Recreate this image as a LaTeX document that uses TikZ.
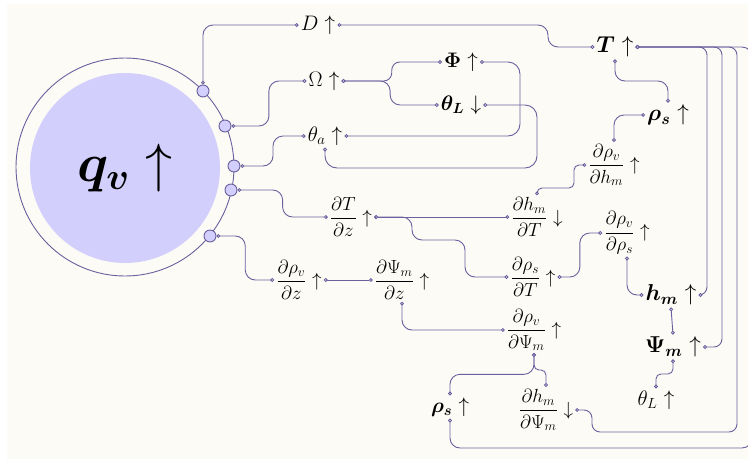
\RequirePackage{fix-cm}
\documentclass[tikz,border=0pt]{standalone}
\usepackage{amsmath}
\usepackage{bm}
\usetikzlibrary{arrows.meta}
\usetikzlibrary{calc}

\definecolor{cream}{RGB}{253,251,246}
\definecolor{lavender}{RGB}{211,207,252}
\definecolor{wirec}{RGB}{106,96,158}

\begin{document}
\begin{tikzpicture}[
  x=1pt, y=-1pt,
  var/.style={inner sep=2pt, font=\fontsize{21}{24}\selectfont},
  bigvar/.style={inner sep=2pt, font=\fontsize{23}{26}\selectfont},
  rate/.style={inner sep=2pt, font=\fontsize{19}{22}\selectfont},
  hub/.style={circle, fill=lavender, minimum size=190pt, inner sep=0pt,
    font=\fontsize{54}{60}\selectfont},
  port/.style={circle, draw=wirec, line width=0.9pt, fill=lavender,
    minimum size=12pt, inner sep=0pt},
  wire/.style={draw=wirec, line width=0.9pt, rounded corners=10pt,
    {Circle[length=3.8pt, fill=white]}-{Circle[length=3.8pt, fill=white]}},
  hvh/.style={to path={let \p1=(\tikztostart), \p2=(\tikztotarget) in
    -- ({(\x1+\x2)/2},\y1) -- ({(\x1+\x2)/2},\y2) -- (\tikztotarget)}},
  vhv/.style={to path={let \p1=(\tikztostart), \p2=(\tikztotarget) in
    -- (\x1,{(\y1+\y2)/2}) -- (\x2,{(\y1+\y2)/2}) -- (\tikztotarget)}}
]
\useasboundingbox (0,0) rectangle (748,459);
\fill[cream] (7,4) rectangle (748,459);

% hub and its ports
\draw[wirec, line width=0.9pt] (125,167) circle[radius=109pt];
\node[hub] (qv) at (125,168) {$\bm{q_v}$ $\uparrow$};
\node[port] (p1) at (203,91)  {};
\node[port] (p2) at (225,126) {};
\node[port] (p3) at (234,166) {};
\node[port] (p4) at (231,190) {};
\node[port] (p5) at (210,236) {};

% variables
\node[var]    (D)       at (318,25)  {$D$ $\uparrow$};
\node[var]    (Omega)   at (324,81)  {$\Omega$ $\uparrow$};
\node[var]    (thetaA)  at (325,136) {$\theta_a$ $\uparrow$};
\node[var]    (Phi)     at (461,62)  {$\bm{\Phi}$ $\uparrow$};
\node[var]    (thetaL)  at (461,105) {$\bm{\theta_L}$ $\downarrow$};
\node[bigvar] (T)       at (615,47)  {$\bm{T}$ $\uparrow$};
\node[bigvar] (rhoS)    at (668,115) {$\bm{\rho_s}$ $\uparrow$};
\node[rate]   (dRvdHm)  at (614,165) {$\dfrac{\partial\rho_v}{\partial h_m}$ $\uparrow$};
\node[rate]   (dHmdT)   at (537,217) {$\dfrac{\partial h_m}{\partial T}$ $\downarrow$};
\node[rate]   (dTdz)    at (351,217) {$\dfrac{\partial T}{\partial z}$ $\uparrow$};
\node[rate]   (dRsdT)   at (533,277) {$\dfrac{\partial\rho_s}{\partial T}$ $\uparrow$};
\node[rate]   (dRvdRs)  at (627,233) {$\dfrac{\partial\rho_v}{\partial\rho_s}$ $\uparrow$};
\node[bigvar] (hm)      at (671,295) {$\bm{h_m}$ $\uparrow$};
\node[bigvar] (Psim)    at (673,347) {$\bm{\Psi_m}$ $\uparrow$};
\node[var]    (thetaLb) at (656,400) {$\theta_L$ $\uparrow$};
\node[rate]   (dRvdPsi) at (534,330) {$\dfrac{\partial\rho_v}{\partial\Psi_m}$ $\uparrow$};
\node[rate]   (dHmdPsi) at (546,410) {$\dfrac{\partial h_m}{\partial\Psi_m}$ $\downarrow$};
\node[var]    (rhoSb)   at (450,407) {$\bm{\rho_s}$ $\uparrow$};
\node[rate]   (dPsidz)  at (402,280) {$\dfrac{\partial\Psi_m}{\partial z}$ $\uparrow$};
\node[rate]   (dRvdz)   at (299,280) {$\dfrac{\partial\rho_v}{\partial z}$ $\uparrow$};

% wires from the hub
\draw[wire] (p1.north) |- (D.west);
\draw[wire] (p2.east) to[hvh] (Omega.west);
\draw[wire] (p3.east) to[hvh] (thetaA.west);
\draw[wire] (p4.east) to[hvh] (dTdz.west);
\draw[wire] (p5.east) to[hvh] (dRvdz.west);

% upper group
\draw[wire] (D.east) -| (548,47) -- (T.west);
\draw[wire, rounded corners=8pt] (Omega.east) to[hvh] (Phi.west);
\draw[wire] (Omega.east) to[hvh] (thetaL.west);
\draw[wire, rounded corners=12pt] (Phi.east) -| (520,136) -- (thetaA.east);
\draw[wire, rounded corners=12pt] (thetaL.east) -| (537,168) -| (thetaA.south);
\draw[wire] (T.south) to[vhv] (rhoS.north);
\draw[wire] (rhoS.west) -| (dRvdHm.north);
\draw[wire, rounded corners=5pt] (dHmdT.north) |- (574,188) |- (dRvdHm.west);

% middle group
\draw[wire] (dTdz.east) -- (dHmdT.west);
\draw[wire] (dTdz.east) -| (412,240) -- (465,240) |- (dRsdT.west);
\draw[wire] (dRsdT.east) to[hvh] (dRvdRs.west);
\draw[wire] (dRvdRs.south) |- (hm.west);
\draw[wire] (hm.south) -- (Psim.north);
\draw[wire, rounded corners=5pt] (Psim.south) to[vhv] (thetaLb.north);

% lower group
\draw[wire] (dRvdz.east) -- (dPsidz.west);
\draw[wire] (dPsidz.south) |- (dRvdPsi.west);
\draw[wire] (dRvdPsi.south) to[vhv] (rhoSb.north);
\draw[wire, rounded corners=5pt] (dRvdPsi.south) to[vhv] (dHmdPsi.north);

% feedback from T
\draw[wire, rounded corners=8pt] (T.east) -| (707,295) -- (hm.east);
\draw[wire, rounded corners=8pt] (T.east) -| (722,347) -- (Psim.east);
\draw[wire, rounded corners=8pt] (T.east) -| (737,432) -| (592,410) -- (dHmdPsi.east);
\draw[wire, rounded corners=10pt] (T.east) -| (752,448) -| (rhoSb.south);
\end{tikzpicture}
\end{document}
